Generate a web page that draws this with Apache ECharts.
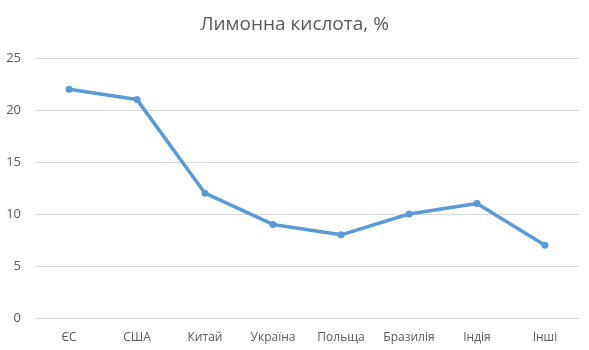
<!DOCTYPE html>
<html>
<head>
<meta charset="utf-8">
<script src="https://cdn.jsdelivr.net/npm/echarts@6/dist/echarts.min.js"></script>
<style>
  html, body { margin: 0; padding: 0; background: #fff; }
  #chart { width: 589px; height: 350px; }
</style>
</head>
<body>
<div id="chart"></div>
<script>
// дані з картинки
var categories = ['ЄС', 'США', 'Китай', 'Україна', 'Польща', 'Бразилія', 'Індія', 'Інші'];
var values = [22, 21, 12, 9, 8, 10, 11, 7];
var yTicks = [0, 5, 10, 15, 20, 25];

var myChart = echarts.init(document.getElementById('chart'));
var option = {
    backgroundColor: '#fff',
    textStyle: { fontFamily: '"Open Sans", "Noto Sans", sans-serif' },
    title: {
        text: 'Лимонна кислота, %',
        left: 'center',
        top: 10,
        textStyle: { fontSize: 19, fontWeight: 'normal', color: '#595959', fontFamily: '"Open Sans", "Noto Sans", sans-serif' }
    },
    grid: { left: 35, right: 10, top: 58, bottom: 32, containLabel: false },
    xAxis: {
        type: 'category',
        data: categories,
        boundaryGap: true,
        axisLine: { show: false },
        axisTick: { show: false },
        axisLabel: { color: '#595959', fontSize: 12, margin: 14 }
    },
    yAxis: {
        type: 'value',
        min: yTicks[0],
        max: yTicks[yTicks.length - 1],
        interval: 5,
        axisLine: { show: false },
        axisTick: { show: false },
        splitLine: { lineStyle: { color: '#d9d9d9', width: 1 } },
        axisLabel: { color: '#595959', fontSize: 13, margin: 14 }
    },
    series: [
        {
            type: 'line',
            data: values,
            symbol: 'circle',
            symbolSize: 7,
            lineStyle: { color: '#5b9bd5', width: 3.5 },
            itemStyle: { color: '#5b9bd5' },
            animation: false
        }
    ]
};
myChart.setOption(option);
</script>
</body>
</html>
